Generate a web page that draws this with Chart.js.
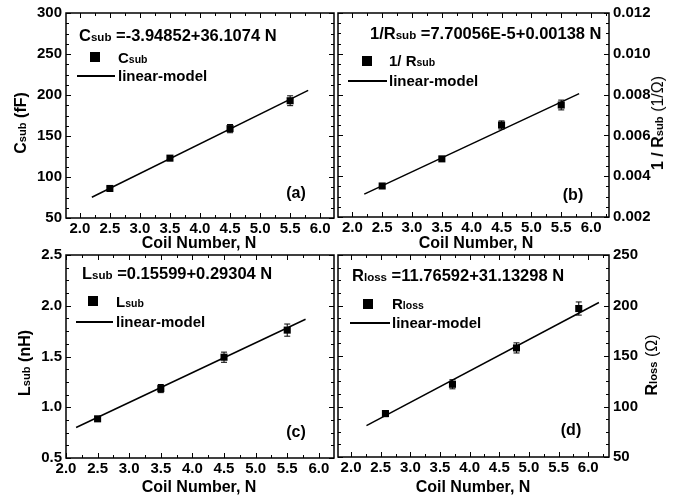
<!DOCTYPE html>
<html>
<head>
<meta charset="utf-8">
<script src="https://cdn.jsdelivr.net/npm/chart.js@4.4.1/dist/chart.umd.min.js"></script>
<style>
  html, body { margin: 0; padding: 0; background: #fff; }
  #wrap { position: relative; width: 698px; height: 497px; overflow: hidden;
          font-family: "Liberation Sans", Arial, sans-serif; font-weight: bold; color: #000; }
  #wrap canvas { position: absolute; left: 0; top: 0; }
  .t { position: absolute; white-space: nowrap; line-height: 1; transform: translateY(-50%); }
  .eq { font-size: 16.5px; }
  .lg { font-size: 15px; }
  .pl { font-size: 16px; transform: translate(-50%, -50%); }
  .xt { font-size: 16px; transform: translate(-50%, -50%); }
  .ax { font-size: 16px; transform: translate(-50%, -50%) rotate(-90deg); }
  .s { font-size: 0.7em; }
  .n { font-weight: normal; }
  .sq { position: absolute; background: #000; }
  .ln { position: absolute; height: 1.5px; background: #000; }
</style>
</head>
<body>
<div id="wrap">
  <canvas id="ca" width="698" height="497"></canvas>
  <canvas id="cb" width="698" height="497"></canvas>
  <canvas id="cc" width="698" height="497"></canvas>
  <canvas id="cd" width="698" height="497"></canvas>

  <!-- (a) -->
  <div class="t eq" style="left:79px;top:35px">C<span class="s">sub</span> =-3.94852+36.1074 N</div>
  <div class="sq" style="left:90px;top:52px;width:10px;height:10px"></div>
  <div class="t lg" style="left:118px;top:57px">C<span class="s">sub</span></div>
  <div class="ln" style="left:77px;top:75px;width:38px"></div>
  <div class="t lg" style="left:118px;top:75px">linear-model</div>
  <div class="t pl" style="left:296px;top:193px">(a)</div>
  <div class="t ax" style="left:21px;top:123px">C<span class="s">sub</span> (fF)</div>
  <div class="t xt" style="left:199px;top:243px">Coil Number, N</div>

  <!-- (b) -->
  <div class="t eq" style="left:370px;top:33px">1/R<span class="s">sub</span> =7.70056E-5+0.00138 N</div>
  <div class="sq" style="left:362px;top:56px;width:10px;height:10px"></div>
  <div class="t lg" style="left:389px;top:60px">1/ R<span class="s">sub</span></div>
  <div class="ln" style="left:348px;top:80px;width:39px"></div>
  <div class="t lg" style="left:389px;top:80px">linear-model</div>
  <div class="t pl" style="left:573px;top:195px">(b)</div>
  <div class="t ax" style="left:658px;top:123px">1 / R<span class="s">sub</span> <span class="n">(1/Ω)</span></div>
  <div class="t xt" style="left:476px;top:243px">Coil Number, N</div>

  <!-- (c) -->
  <div class="t eq" style="left:82px;top:273px">L<span class="s">sub</span> =0.15599+0.29304 N</div>
  <div class="sq" style="left:88px;top:296px;width:10px;height:10px"></div>
  <div class="t lg" style="left:116px;top:301px">L<span class="s">sub</span></div>
  <div class="ln" style="left:76px;top:321px;width:37px"></div>
  <div class="t lg" style="left:116px;top:321px">linear-model</div>
  <div class="t pl" style="left:296px;top:432px">(c)</div>
  <div class="t ax" style="left:25px;top:363px">L<span class="s">sub</span> (nH)</div>
  <div class="t xt" style="left:199px;top:487px">Coil Number, N</div>

  <!-- (d) -->
  <div class="t eq" style="left:352px;top:275px">R<span class="s">loss</span> =11.76592+31.13298 N</div>
  <div class="sq" style="left:363px;top:299px;width:10px;height:10px"></div>
  <div class="t lg" style="left:392px;top:303px">R<span class="s">loss</span></div>
  <div class="ln" style="left:350px;top:322px;width:40px"></div>
  <div class="t lg" style="left:392px;top:322px">linear-model</div>
  <div class="t pl" style="left:571px;top:430px">(d)</div>
  <div class="t ax" style="left:652px;top:365px">R<span class="s">loss</span> <span class="n">(Ω)</span></div>
  <div class="t xt" style="left:473px;top:487px">Coil Number, N</div>
</div>

<script>
// (a) substrate capacitance
const coilA = [2.5, 3.5, 4.5, 5.5];
const csub = [86, 123, 159, 193];
const csubErr = [2, 3, 5, 6];
const csubFitX = [2.2, 5.8];
const csubFit = [75.3, 205.7];

// (b) substrate conductance 1/Rsub
const coilB = [2.5, 3.5, 4.5, 5.5];
const invRsub = [0.00352, 0.00485, 0.00651, 0.00749];
const invRsubErr = [0.0001, 0.0001, 0.0002, 0.00024];
const invRsubFitX = [2.2, 5.8];
const invRsubFit = [0.00312, 0.00805];

// (c) substrate inductance
const coilC = [2.5, 3.5, 4.5, 5.5];
const lsub = [0.886, 1.184, 1.493, 1.76];
const lsubErr = [0.02, 0.04, 0.05, 0.06];
const lsubFitX = [2.16, 5.79];
const lsubFit = [0.80, 1.867];

// (d) loss resistance
const coilD = [2.58, 3.71, 4.79, 5.84];
const rloss = [93, 122, 158, 197];
const rlossErr = [3, 4.5, 5, 6.5];
const rlossFitX = [2.26, 6.18];
const rlossFit = [81, 203];

// x tick labels / y ticks
const xTickStep = 0.5;
const yTicksA = [50, 300, 50];
const yTicksB = [0.002, 0.012, 0.002];
const yTicksC = [0.5, 2.5, 0.5];
const yTicksD = [50, 250, 50];

Chart.defaults.font.family = '"Liberation Sans", Arial, sans-serif';
Chart.defaults.font.weight = 'bold';
Chart.defaults.font.size = 15;
Chart.defaults.color = '#000';

const pts = (xs, ys) => xs.map((x, i) => ({ x: x, y: ys[i] }));

// error bars, drawn under the square markers
const errorBars = {
  id: 'errorBars',
  beforeDatasetsDraw(chart) {
    const { ctx, scales: { x, y } } = chart;
    const ds = chart.data.datasets[0];
    ctx.save();
    ctx.strokeStyle = '#000';
    ctx.lineWidth = 1;
    ds.data.forEach((p, i) => {
      const e = ds.errors[i];
      const px = x.getPixelForValue(p.x);
      const y1 = y.getPixelForValue(p.y - e);
      const y2 = y.getPixelForValue(p.y + e);
      ctx.beginPath();
      ctx.moveTo(px, y1); ctx.lineTo(px, y2);
      ctx.moveTo(px - 3, y1); ctx.lineTo(px + 3, y1);
      ctx.moveTo(px - 3, y2); ctx.lineTo(px + 3, y2);
      ctx.stroke();
    });
    ctx.restore();
  }
};

// box frame with inward ticks on all four sides
const frameTicks = {
  id: 'frameTicks',
  afterDatasetsDraw(chart) {
    const { ctx, chartArea: a, scales: { x, y } } = chart;
    ctx.save();
    ctx.strokeStyle = '#000';
    ctx.lineWidth = 1;
    const seg = (x1, y1, x2, y2) => { ctx.beginPath(); ctx.moveTo(x1, y1); ctx.lineTo(x2, y2); ctx.stroke(); };

    const xs = x.options.ticks.stepSize / 2;
    const x0 = Math.ceil(x.min / xs - 1e-6);
    for (let k = x0; k * xs <= x.max + 1e-9; k++) {
      const len = k % 2 === 0 ? 5 : 3;
      const px = Math.round(x.getPixelForValue(k * xs)) + 0.5;
      seg(px, a.bottom, px, a.bottom - len);
      seg(px, a.top, px, a.top + len);
    }
    const ys = y.options.ticks.stepSize / 4;
    const n = Math.round((y.max - y.min) / ys);
    for (let k = 0; k <= n; k++) {
      const len = k % 4 === 0 ? 5 : 3;
      const py = Math.round(y.getPixelForValue(y.min + k * ys)) + 0.5;
      seg(a.left, py, a.left + len, py);
      seg(a.right, py, a.right - len, py);
    }
    ctx.lineWidth = 1.5;
    ctx.strokeRect(a.left, a.top, a.right - a.left, a.bottom - a.top);
    ctx.restore();
  }
};

function makePanel(id, xs, ys, errs, fitX, fitY, xRange, yTicks, yPos, pad, yDigits) {
  new Chart(document.getElementById(id), {
    type: 'scatter',
    data: {
      datasets: [
        {
          data: pts(xs, ys),
          errors: errs,
          pointStyle: 'rect',
          pointRadius: 5,
          backgroundColor: '#000',
          borderColor: '#000',
          borderWidth: 0
        },
        {
          type: 'line',
          data: pts(fitX, fitY),
          borderColor: '#000',
          borderWidth: 1.5,
          pointRadius: 0,
          fill: false
        }
      ]
    },
    options: {
      responsive: false,
      animation: false,
      layout: { padding: pad },
      plugins: { legend: { display: false }, tooltip: { enabled: false } },
      scales: {
        x: {
          type: 'linear',
          min: xRange[0],
          max: xRange[1],
          grid: { display: false, drawTicks: false },
          border: { display: false },
          ticks: {
            stepSize: xTickStep,
            includeBounds: false,
            autoSkip: false,
            maxRotation: 0,
            padding: 2,
            callback: v => v.toFixed(1)
          },
          afterFit: s => { s.height = 30; }
        },
        y: {
          type: 'linear',
          position: yPos,
          min: yTicks[0],
          max: yTicks[1],
          grid: { display: false, drawTicks: false },
          border: { display: false },
          ticks: {
            stepSize: yTicks[2],
            padding: 4,
            callback: v => v.toFixed(yDigits)
          },
          afterFit: s => { s.width = yPos === 'left' ? 66 : 89; }
        }
      }
    },
    plugins: [errorBars, frameTicks]
  });
}

makePanel('ca', coilA, csub, csubErr, csubFitX, csubFit, [1.77, 6.23], yTicksA, 'left',
  { left: 0, top: 10, right: 364, bottom: 249 }, 0);
makePanel('cb', coilB, invRsub, invRsubErr, invRsubFitX, invRsubFit, [1.76, 6.3], yTicksB, 'right',
  { left: 338, top: 8, right: 0, bottom: 250 }, 3);
makePanel('cc', coilC, lsub, lsubErr, lsubFitX, lsubFit, [2.0, 6.24], yTicksC, 'left',
  { left: 0, top: 255, right: 364, bottom: 9 }, 1);
makePanel('cd', coilD, rloss, rlossErr, rlossFitX, rlossFit, [1.78, 6.35], yTicksD, 'right',
  { left: 338, top: 255, right: 0, bottom: 10 }, 0);
</script>
</body>
</html>
